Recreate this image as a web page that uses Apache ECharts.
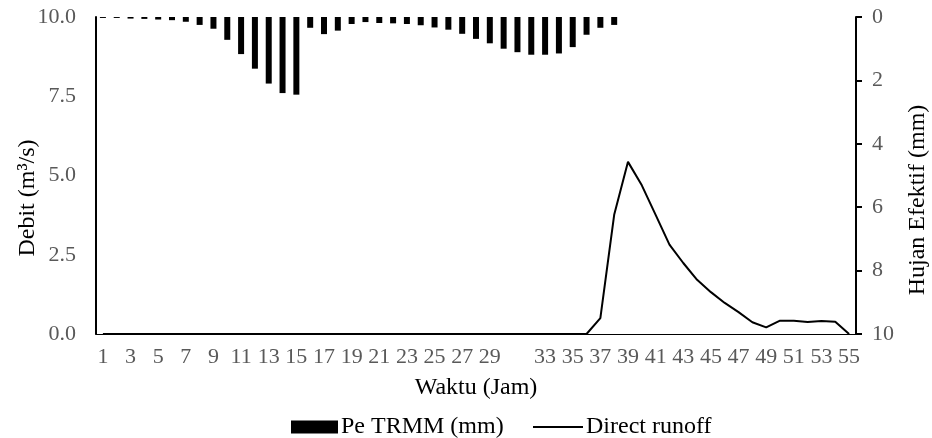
<!DOCTYPE html>
<html>
<head>
<meta charset="utf-8">
<script src="https://cdn.jsdelivr.net/npm/echarts@6/dist/echarts.min.js"></script>
<style>
html,body{margin:0;padding:0;background:#fff;}
#chart{width:932px;height:438px;}
</style>
</head>
<body>
<div id="chart"></div>
<script>
// Time categories (hours)
var categories = [];
for (var i = 1; i <= 55; i++) categories.push(String(i));

// Pe TRMM (mm) - effective rainfall, hours 1..38
var peTRMM = [0.03,0.03,0.05,0.06,0.08,0.10,0.15,0.25,0.37,0.72,
              1.17,1.63,2.10,2.40,2.45,0.34,0.54,0.43,0.22,0.16,
              0.19,0.20,0.22,0.26,0.33,0.40,0.53,0.69,0.83,1.00,
              1.11,1.19,1.19,1.15,0.95,0.56,0.34,0.25,null,null,
              null,null,null,null,null,null,null,null,null,null,
              null,null,null,null,null];

// Direct runoff (m3/s)
var directRunoff = [0,0,0,0,0,0,0,0,0,0,
                    0,0,0,0,0,0,0,0,0,0,
                    0,0,0,0,0,0,0,0,0,0,
                    0,0,0,0,0,0,0.50,3.76,5.43,4.69,
                    3.76,2.82,2.24,1.71,1.32,0.98,0.69,0.37,0.21,0.42,
                    0.42,0.38,0.41,0.39,0.0];

var hiddenLabels = ['31'];
var leftTitle = 'Debit (m³/s)';
var rightTitle = 'Hujan Efektif (mm)';
var xTitle = 'Waktu (Jam)';

var FONT = "'Liberation Serif','Times New Roman',serif";
var TICK = 22, TITLE = 24;
var chart = echarts.init(document.getElementById('chart'));
chart.setOption({
  animation: false,
  backgroundColor: '#fff',
  grid: {left: 96, right: 76, top: 17, bottom: 104},
  graphic: [
    {type: 'text', rotation: Math.PI / 2, x: 28, y: 198,
     style: {text: leftTitle, font: TITLE + 'px ' + FONT, fill: '#000', align: 'center', verticalAlign: 'middle'}},
    {type: 'text', rotation: Math.PI / 2, x: 918, y: 200,
     style: {text: rightTitle, font: TITLE + 'px ' + FONT, fill: '#000', align: 'center', verticalAlign: 'middle'}}
  ],
  legend: [
    {
      top: 410, left: 286, itemGap: 0,
      textStyle: {fontFamily: FONT, fontSize: TITLE, color: '#000', padding: [0, 0, 0, -2]},
      data: [{name: 'Pe TRMM (mm)', icon: 'rect', itemStyle: {color: '#000'}}],
      itemWidth: 47, itemHeight: 13
    },
    {
      top: 410, left: 528, itemGap: 0,
      textStyle: {fontFamily: FONT, fontSize: TITLE, color: '#000', padding: [0, 0, 0, -2]},
      data: [{name: 'Direct runoff', icon: 'rect', itemStyle: {color: '#000'}}],
      itemWidth: 50, itemHeight: 2
    }
  ],
  xAxis: {
    type: 'category',
    data: categories,
    boundaryGap: true,
    name: xTitle,
    nameLocation: 'middle',
    nameGap: 42,
    nameTextStyle: {fontFamily: FONT, fontSize: TITLE, color: '#000'},
    axisLine: {lineStyle: {color: '#000', width: 1}},
    axisTick: {show: false},
    axisLabel: {
      interval: 1, margin: 12,
      fontFamily: FONT, fontSize: TICK, color: '#595959',
      formatter: function (v) { return hiddenLabels.indexOf(v) >= 0 ? '' : v; }
    }
  },
  yAxis: [
    {
      type: 'value', min: 0, max: 10, interval: 2.5,
      axisLine: {show: true, lineStyle: {color: '#000', width: 2}},
      axisTick: {show: false},
      splitLine: {show: false},
      axisLabel: {
        fontFamily: FONT, fontSize: TICK, color: '#595959', margin: 20,
        formatter: function (v) { return v.toFixed(1); }
      }
    },
    {
      type: 'value', min: 0, max: 10, interval: 2, inverse: true,
      position: 'right',
      axisLine: {show: true, lineStyle: {color: '#000', width: 2}},
      axisTick: {show: true, inside: false, length: 6, lineStyle: {color: '#000', width: 2}},
      splitLine: {show: false},
      axisLabel: {fontFamily: FONT, fontSize: TICK, color: '#595959', margin: 16}
    }
  ],
  series: [
    {
      name: 'Pe TRMM (mm)',
      type: 'bar',
      yAxisIndex: 1,
      data: peTRMM,
      barWidth: 6,
      itemStyle: {color: '#000'}
    },
    {
      name: 'Direct runoff',
      type: 'line',
      yAxisIndex: 0,
      data: directRunoff,
      symbol: 'none',
      lineStyle: {color: '#000', width: 2},
      itemStyle: {color: '#000'}
    }
  ]
});
</script>
</body>
</html>
